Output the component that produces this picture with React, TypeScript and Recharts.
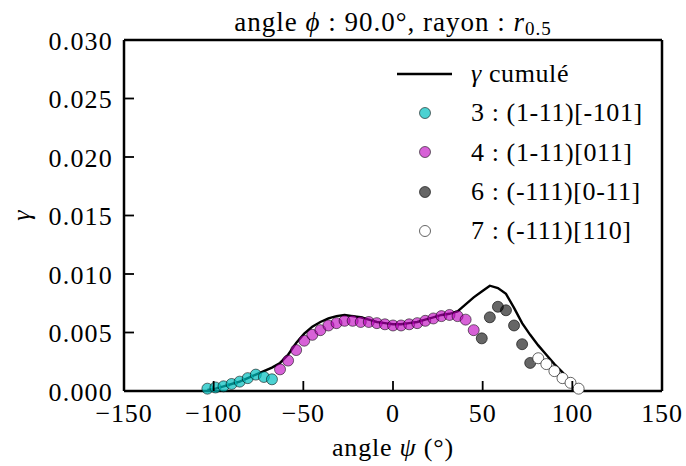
import React from 'react';
import { ScatterChart, Scatter, XAxis, YAxis, Legend } from 'recharts';

// ---- data ----
const psi3 = [-103.5, -99, -94.5, -90, -85.5, -81, -76.5, -72, -67.5];
const gamma3 = [0.0002, 0.0003, 0.0004, 0.0006, 0.0008, 0.0011, 0.0014, 0.0012, 0.001];

const psi4 = [-63, -58.5, -54, -49.5, -45, -40.5, -36, -31.5, -27, -22.5, -18, -13.5, -9, -4.5, 0, 4.5, 9, 13.5, 18, 22.5, 27, 31.5, 36, 40.5, 45];
const gamma4 = [0.00185, 0.0026, 0.0035, 0.0043, 0.0048, 0.0052, 0.0056, 0.0058, 0.006, 0.006, 0.0059, 0.0059, 0.0058, 0.0057, 0.0056, 0.0056, 0.0057, 0.0058, 0.006, 0.0062, 0.0064, 0.0065, 0.0064, 0.0061, 0.0052];

const psi6 = [49.5, 54, 58.5, 63, 67.5, 72, 76.5];
const gamma6 = [0.0045, 0.0063, 0.0072, 0.0069, 0.0056, 0.004, 0.0024];

const psi7 = [81, 85.5, 90, 94.5, 99, 103.5];
const gamma7 = [0.0028, 0.0023, 0.0017, 0.0011, 0.0007, 0.0002];

const psiCum = [-103.5, -99, -94.5, -90, -85.5, -81, -76.5, -72, -67.5, -63, -58.5, -54, -49.5, -45, -40.5, -36, -31.5, -27, -22.5, -18, -13.5, -9, -4.5, 0, 4.5, 9, 13.5, 18, 22.5, 27, 31.5, 36, 40.5, 45, 49.5, 54, 58.5, 63, 67.5, 72, 76.5, 81, 85.5, 90, 94.5, 99, 103.5];
const gammaCum = [0.0001, 0.0002, 0.0004, 0.0006, 0.0008, 0.0011, 0.0014, 0.0017, 0.002, 0.0024, 0.0031, 0.0041, 0.0049, 0.0055, 0.0059, 0.0062, 0.0064, 0.0065, 0.0064, 0.0063, 0.0061, 0.0059, 0.0058, 0.0057, 0.0057, 0.0058, 0.0059, 0.0061, 0.0063, 0.0065, 0.0066, 0.0068, 0.0074, 0.008, 0.0085, 0.009, 0.0088, 0.0083, 0.0071, 0.0058, 0.0048, 0.0039, 0.0031, 0.0023, 0.0016, 0.0005, 0.0];

const xTicks = [-150, -100, -50, 0, 50, 100, 150];
const yTicks = [0, 0.005, 0.01, 0.015, 0.02, 0.025, 0.03];

const seriesLabels = ['3 : (1-11)[-101]', '4 : (1-11)[011]', '6 : (-111)[0-11]', '7 : (-111)[110]'];

const toPts = (xs: number[], ys: number[]) => xs.map((x, i) => ({ x, y: ys[i] }));

const FONT = "'Liberation Serif', serif";
const TL = 10; // inward tick length

const styles = [
  { fill: '#00bfbf', fillOpacity: 0.7, stroke: '#000', strokeOpacity: 0.55 },
  { fill: '#bf00bf', fillOpacity: 0.62, stroke: '#000', strokeOpacity: 0.55 },
  { fill: '#000', fillOpacity: 0.6, stroke: '#000', strokeOpacity: 0.6 },
  { fill: '#fff', fillOpacity: 1, stroke: '#000', strokeOpacity: 0.6 },
];

const fmtX = (v: number) => (v < 0 ? '\u2212' + Math.abs(v) : String(v));

const BottomTick = (p: any) => {
  const { x, y, payload } = p;
  return (
    <g>
      <path d={`M${x},${y}V${y - TL}`} stroke="black" strokeWidth={1.8} fill="none" />
      <text x={x} y={y + 22} textAnchor="middle" dominantBaseline="central" fontFamily={FONT} fontSize={26} letterSpacing={0.8} fill="#000">
        {fmtX(payload.value)}
      </text>
    </g>
  );
};
const TopTick = (p: any) => {
  const { x, y } = p;
  return <path d={`M${x},${y}V${y + TL}`} stroke="black" strokeWidth={1.8} fill="none" />;
};
const LeftTick = (p: any) => {
  const { x, y, payload } = p;
  return (
    <g>
      <path d={`M${x},${y}H${x + TL}`} stroke="black" strokeWidth={1.8} fill="none" />
      <text x={x - 11} y={y + 1} textAnchor="end" dominantBaseline="central" fontFamily={FONT} fontSize={26} letterSpacing={1.2} fill="#000">
        {payload.value.toFixed(3)}
      </text>
    </g>
  );
};
const RightTick = (p: any) => {
  const { x, y } = p;
  return <path d={`M${x},${y}H${x - TL}`} stroke="black" strokeWidth={1.8} fill="none" />;
};

const makeShape = (i: number) => (p: any) => (
  <circle cx={p.cx} cy={p.cy} r={5.5} fill={styles[i].fill} fillOpacity={styles[i].fillOpacity} stroke={styles[i].stroke} strokeOpacity={styles[i].strokeOpacity} strokeWidth={1} />
);

const LegendBox = () => (
  <div style={{ fontFamily: FONT, fontSize: 26, letterSpacing: 0.6, color: '#000', lineHeight: '39.3px' }}>
    <div style={{ display: 'flex', alignItems: 'center', height: 39.3 }}>
      <svg width={80} height={20} style={{ display: 'block' }}>
        <line x1={6} x2={61} y1={10} y2={10} stroke="#000" strokeWidth={2.4} />
      </svg>
      <span><i>γ</i> cumulé</span>
    </div>
    {seriesLabels.map((lab, i) => (
      <div key={lab} style={{ display: 'flex', alignItems: 'center', height: 39.3 }}>
        <svg width={80} height={20} style={{ display: 'block' }}>
          <circle cx={34} cy={10} r={5.5} fill={styles[i].fill} fillOpacity={styles[i].fillOpacity} stroke={styles[i].stroke} strokeOpacity={styles[i].strokeOpacity} strokeWidth={1} />
        </svg>
        <span>{lab}</span>
      </div>
    ))}
  </div>
);

export default function App() {
  return (
    <div style={{ position: 'absolute', left: 0, top: 0, width: 686, height: 466, background: '#fff' }}>
      <ScatterChart width={686} height={466} margin={{ top: 39, right: 23, bottom: 35, left: 24 }}>
        <XAxis
          dataKey="x"
          type="number"
          domain={[-150, 150]}
          ticks={xTicks}
          tickSize={0}
          tickMargin={0}
          tick={BottomTick}
          tickLine={false}
          axisLine={{ stroke: '#000', strokeWidth: 2.5 }}
          height={40}
          label={{
            content: (p: any) => {
              const vb = p.viewBox;
              return (
                <text x={vb.x + vb.width / 2} y={vb.y + 56} textAnchor="middle" dominantBaseline="central" fontFamily={FONT} fontSize={26} letterSpacing={0.8} fill="#000">
                  angle <tspan fontStyle="italic">ψ</tspan> (°)
                </text>
              );
            },
          }}
        />
        <XAxis
          xAxisId="top"
          orientation="top"
          dataKey="x"
          type="number"
          domain={[-150, 150]}
          ticks={xTicks}
          tickSize={0}
          tickMargin={0}
          tick={TopTick}
          tickLine={false}
          axisLine={{ stroke: '#000', strokeWidth: 2.5 }}
          height={1}
          label={{
            content: (p: any) => {
              const vb = p.viewBox;
              return (
                <text x={vb.x + vb.width / 2} y={vb.y - 17} textAnchor="middle" dominantBaseline="central" fontFamily={FONT} fontSize={27} letterSpacing={1} fill="#000">
                  angle <tspan fontStyle="italic">ϕ</tspan> : 90.0°, rayon : <tspan fontStyle="italic">r</tspan>
                  <tspan fontSize={19} dy={6}>0.5</tspan>
                </text>
              );
            },
          }}
        />
        <YAxis
          dataKey="y"
          type="number"
          domain={[0, 0.03]}
          ticks={yTicks}
          tickSize={0}
          tickMargin={0}
          tick={LeftTick}
          tickLine={false}
          axisLine={{ stroke: '#000', strokeWidth: 2.5 }}
          width={100}
          label={{
            content: (p: any) => {
              const vb = p.viewBox;
              return (
                <text x={vb.x - 3} y={vb.y + vb.height / 2} textAnchor="middle" dominantBaseline="central" fontFamily={FONT} fontSize={26} fontStyle="italic" fill="#000" transform={`rotate(-90 ${vb.x - 3} ${vb.y + vb.height / 2})`}>
                  γ
                </text>
              );
            },
          }}
        />
        <YAxis
          yAxisId="right"
          orientation="right"
          dataKey="y"
          type="number"
          domain={[0, 0.03]}
          ticks={yTicks}
          tickSize={0}
          tickMargin={0}
          tick={RightTick}
          tickLine={false}
          axisLine={{ stroke: '#000', strokeWidth: 2.5 }}
          width={1}
        />
        <Legend
          layout="vertical"
          align="center"
          verticalAlign="middle"
          content={LegendBox}
          wrapperStyle={{ left: 391, top: 54, width: 280 }}
        />
        <Scatter
          name="γ cumulé"
          data={toPts(psiCum, gammaCum)}
          line={{ stroke: '#000', strokeWidth: 2.4 }}
          shape={() => <g />}
          isAnimationActive={false}
        />
        <Scatter name={seriesLabels[0]} data={toPts(psi3, gamma3)} shape={makeShape(0)} isAnimationActive={false} />
        <Scatter name={seriesLabels[1]} data={toPts(psi4, gamma4)} shape={makeShape(1)} isAnimationActive={false} />
        <Scatter name={seriesLabels[2]} data={toPts(psi6, gamma6)} shape={makeShape(2)} isAnimationActive={false} />
        <Scatter name={seriesLabels[3]} data={toPts(psi7, gamma7)} shape={makeShape(3)} isAnimationActive={false} />
      </ScatterChart>
    </div>
  );
}
